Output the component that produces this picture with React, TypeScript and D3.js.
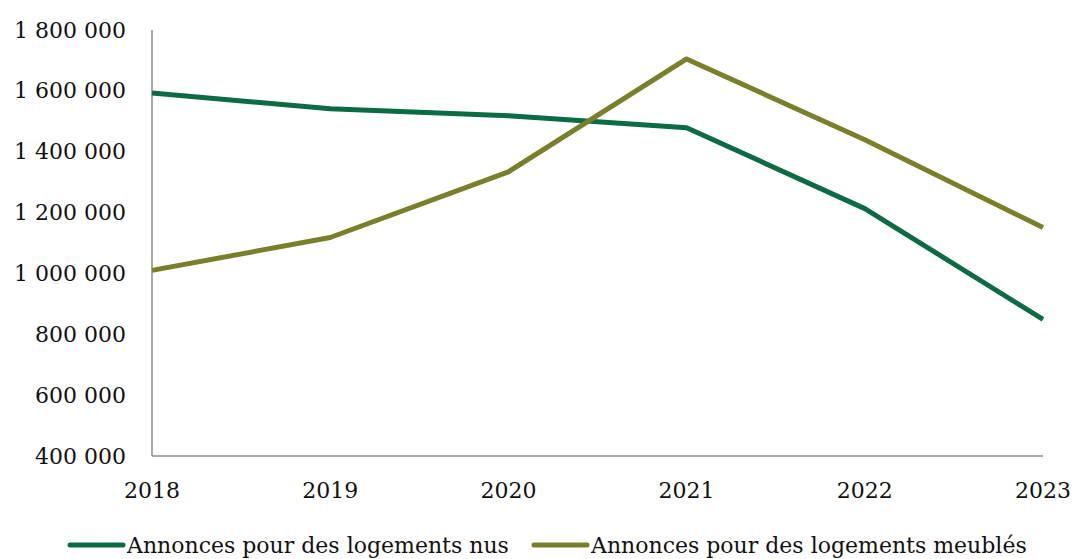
import React from "react";
import * as d3 from "d3";

const years = ["2018", "2019", "2020", "2021", "2022", "2023"];
const nus = [1593000, 1541000, 1518000, 1479000, 1213000, 849000];
const meubles = [1010000, 1118000, 1334000, 1705000, 1439000, 1151000];
const yTicks = [400000, 600000, 800000, 1000000, 1200000, 1400000, 1600000, 1800000];
const seriesNames = ["Annonces pour des logements nus", "Annonces pour des logements meublés"];
const colors = ["#0A6B45", "#7A7F29"];

const W = 1073, H = 559;
const left = 152, right = 1043, top = 30, bottom = 456;
const font = "'DejaVu Serif', serif";

const fmt = (v: number) => d3.format(",")(v).replace(/,/g, " ");

export default function App() {
  const x = d3.scalePoint<string>().domain(years).range([left, right]);
  const y = d3.scaleLinear().domain([400000, 1800000]).range([bottom, top]);
  const line = d3.line<number>().x((_, i) => x(years[i])!).y((d) => y(d));
  const data = [nus, meubles];
  return (
    <svg width={W} height={H} style={{ position: "absolute", left: 0, top: 0, background: "#fff" }}>
      <line x1={left} x2={left} y1={top} y2={bottom} stroke="#8C8C8C" strokeWidth={1.5} />
      <line x1={left} x2={right} y1={bottom} y2={bottom} stroke="#8C8C8C" strokeWidth={1.5} />
      {yTicks.map((t) => (
        <text key={t} x={126} y={y(t)} textAnchor="end" dominantBaseline="central" fontFamily={font} fontSize={22} fill="#111">
          {fmt(t)}
        </text>
      ))}
      {years.map((yr) => (
        <text key={yr} x={x(yr)!} y={490} textAnchor="middle" dominantBaseline="central" fontFamily={font} fontSize={22} fill="#111">
          {yr}
        </text>
      ))}
      {data.map((d, i) => (
        <path key={i} d={line(d)!} fill="none" stroke={colors[i]} strokeWidth={5} strokeLinejoin="round" />
      ))}
      {[0, 1].map((i) => {
        const lx = i === 0 ? 70 : 534;
        return (
          <g key={i}>
            <line x1={lx} x2={lx + 53} y1={545} y2={545} stroke={colors[i]} strokeWidth={5} strokeLinecap="round" />
            <text x={lx + 57} y={545} dominantBaseline="central" fontFamily={font} fontSize={22} fill="#111">
              {seriesNames[i]}
            </text>
          </g>
        );
      })}
    </svg>
  );
}
